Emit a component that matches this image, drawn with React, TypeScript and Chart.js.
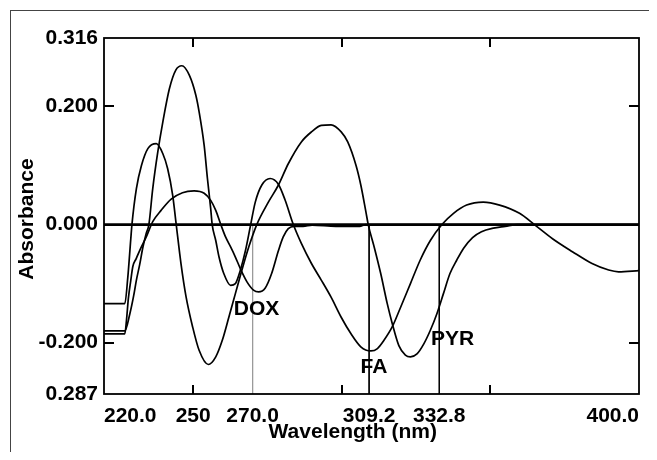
import React, { useEffect, useRef } from 'react';
import { Chart, registerables } from 'chart.js';

Chart.register(...registerables);

// ---- data ----
const faWavelength = [220, 227, 228.7, 230, 230.9, 232, 233.1, 234.2, 235.1, 236.4, 238.1, 239.8, 242, 244.2, 246.2, 248.7, 250.9, 252, 253.7, 254.8, 255.9, 256.4, 257.6, 258.7, 260.3, 262.6, 264.2, 265.9, 267.6, 269.2, 270.9, 273.1, 275.9, 278.7, 280.9, 283.7, 286.4, 289.8, 293.1, 296.4, 299.8, 303.1, 306.4, 309.8, 312, 314.2, 317, 319.8, 323.1, 326.4, 329.8, 333.7, 337.6, 342, 347.6, 353.1, 359.8, 364.8, 370.9, 377.6, 384.2, 389.8, 393.1, 400];
const faAbsorbance = [-0.18, -0.18, -0.151, -0.12, -0.094, -0.068, -0.038, -0.015, 0, 0.061, 0.123, 0.174, 0.23, 0.262, 0.269, 0.253, 0.219, 0.191, 0.134, 0.078, 0.027, 0, -0.027, -0.055, -0.083, -0.103, -0.1, -0.077, -0.044, -0.004, 0.038, 0.067, 0.078, 0.068, 0.042, 0, -0.032, -0.066, -0.094, -0.123, -0.157, -0.185, -0.207, -0.214, -0.21, -0.196, -0.173, -0.14, -0.1, -0.06, -0.027, 0, 0.019, 0.033, 0.038, 0.033, 0.019, 0, -0.024, -0.046, -0.066, -0.077, -0.08, -0.078];

const doxWavelength = [220, 227, 227.6, 228.2, 229, 229.7, 230.8, 232, 234.3, 236.4, 239.2, 242.6, 246.4, 250.3, 253.7, 255.9, 257.6, 259.3, 260.9, 262.6, 264.2, 265.9, 268.1, 270.3, 272, 274.2, 276.4, 278.7, 280.3, 282, 284, 287, 290, 298, 306, 308, 400];
const doxAbsorbance = [-0.185, -0.185, -0.16, -0.125, -0.095, -0.071, -0.058, -0.044, -0.02, 0.005, 0.024, 0.043, 0.054, 0.057, 0.053, 0.041, 0.024, 0, -0.021, -0.038, -0.055, -0.075, -0.097, -0.111, -0.114, -0.108, -0.083, -0.044, -0.021, -0.007, -0.003, -0.003, -0.001, -0.003, -0.003, 0, 0];

const pyrWavelength = [220, 227, 228, 229, 229.4, 230.9, 232.6, 234.8, 237.6, 239.8, 241.4, 243.1, 244.3, 245.9, 247.6, 249.8, 252, 255.1, 257.6, 259.8, 262, 264.2, 266.4, 268.7, 271.4, 275.3, 278.7, 282, 286.4, 289.8, 293.1, 296.4, 299.8, 302, 304.8, 306.4, 308.1, 308.9, 310.9, 313.1, 315.3, 317, 319.2, 321.4, 323.1, 325.3, 327.6, 329.8, 332, 334.2, 336.4, 338.7, 341, 344, 347, 351, 355, 359, 400];
const pyrAbsorbance = [-0.134, -0.134, -0.09, -0.025, 0, 0.061, 0.1, 0.129, 0.137, 0.12, 0.095, 0.05, 0, -0.066, -0.122, -0.173, -0.213, -0.237, -0.224, -0.196, -0.157, -0.117, -0.077, -0.038, 0, 0.038, 0.067, 0.103, 0.14, 0.157, 0.168, 0.169, 0.157, 0.14, 0.1, 0.067, 0.022, 0, -0.038, -0.083, -0.134, -0.168, -0.205, -0.221, -0.224, -0.219, -0.202, -0.179, -0.151, -0.117, -0.083, -0.06, -0.04, -0.022, -0.012, -0.006, -0.003, 0, 0];

const xRange = [220, 400];
const yRange = [-0.287, 0.316];
const xTickValues = [220, 250, 270, 309.2, 332.8, 400];
const xTickLabels = ['220.0', '250', '270.0', '309.2', '332.8', '400.0'];
const yTickValues = [-0.287, -0.2, 0, 0.2, 0.316];
const yTickLabels = ['0.287', '-0.200', '0.000', '0.200', '0.316'];
const xMinorTicks = [250, 300, 350];
const yMinorTicks = [-0.2, 0.2];
const markerWavelengths = [270, 309.2, 332.8];
const curveLabels = ['DOX', 'FA', 'PYR'];
const curveLabelWavelength = [271.3, 310.8, 337.3];
const curveLabelAbsorbance = [-0.144, -0.242, -0.194];
const xTitle = 'Wavelength (nm)';
const yTitle = 'Absorbance';

const FONT = '"Liberation Sans", Arial, sans-serif';

const toPoints = (xs: number[], ys: number[]) => xs.map((x, i) => ({ x, y: ys[i] }));

const decorPlugin = {
  id: 'decor',
  afterDatasetsDraw(chart: any) {
    const { ctx, chartArea: a, scales } = chart;
    const xs = scales.x;
    const ys = scales.y;
    ctx.save();
    // curve labels
    ctx.fillStyle = '#000';
    ctx.font = `bold 21px ${FONT}`;
    ctx.textAlign = 'center';
    ctx.textBaseline = 'middle';
    curveLabels.forEach((t, i) => {
      ctx.fillText(t, xs.getPixelForValue(curveLabelWavelength[i]), ys.getPixelForValue(curveLabelAbsorbance[i]));
    });
    // plot frame
    ctx.strokeStyle = '#000';
    ctx.lineWidth = 1.8;
    ctx.strokeRect(a.left, a.top, a.right - a.left, a.bottom - a.top);
    // inward ticks
    ctx.lineWidth = 2;
    ctx.beginPath();
    xMinorTicks.forEach((v) => {
      const px = Math.round(xs.getPixelForValue(v));
      ctx.moveTo(px, a.bottom);
      ctx.lineTo(px, a.bottom - 9);
      ctx.moveTo(px, a.top);
      ctx.lineTo(px, a.top + 9);
    });
    yMinorTicks.forEach((v) => {
      const py = Math.round(ys.getPixelForValue(v));
      ctx.moveTo(a.left, py);
      ctx.lineTo(a.left + 10, py);
      ctx.moveTo(a.right, py);
      ctx.lineTo(a.right - 10, py);
    });
    ctx.stroke();
    // outer frame
    ctx.strokeStyle = '#444';
    ctx.lineWidth = 1;
    ctx.strokeRect(2.5, 2.5, 643, chart.height + 20);
    // axis titles
    ctx.fillStyle = '#000';
    ctx.font = `bold 21px ${FONT}`;
    ctx.textAlign = 'center';
    ctx.textBaseline = 'alphabetic';
    ctx.fillText(xTitle, a.left + (a.right - a.left) * 0.465, a.bottom + 44);
    ctx.translate(25, (a.top + a.bottom) / 2 + 3);
    ctx.rotate(-Math.PI / 2);
    ctx.fillText(yTitle, 0, 0);
    ctx.restore();
  },
};

export default function App() {
  const ref = useRef<HTMLCanvasElement | null>(null);
  useEffect(() => {
    if (!ref.current) return;
    const curveStyle = {
      borderColor: '#000',
      borderWidth: 1.7,
      pointRadius: 0,
      cubicInterpolationMode: 'monotone' as const,
      fill: false,
    };
    const chart = new Chart(ref.current, {
      type: 'line',
      data: {
        datasets: [
          { label: 'DOX', data: toPoints(doxWavelength, doxAbsorbance), ...curveStyle },
          { label: 'FA', data: toPoints(faWavelength, faAbsorbance), ...curveStyle },
          { label: 'PYR', data: toPoints(pyrWavelength, pyrAbsorbance), ...curveStyle },
          {
            label: 'zero',
            data: [{ x: xRange[0], y: 0 }, { x: xRange[1], y: 0 }],
            borderColor: '#000', borderWidth: 2.8, pointRadius: 0, tension: 0,
          },
          ...markerWavelengths.map((w, i) => ({
            label: 'marker' + i,
            data: [{ x: w, y: 0 }, { x: w, y: yRange[0] }],
            borderColor: i === 0 ? '#9a9a9a' : '#000',
            borderWidth: 1,
            pointRadius: 0,
            tension: 0,
          })),
        ],
      },
      options: {
        animation: false,
        responsive: false,
        layout: { padding: { top: 30, right: 5, left: 0, bottom: 0 } },
        plugins: { legend: { display: false }, tooltip: { enabled: false } },
        scales: {
          x: {
            type: 'linear',
            min: xRange[0],
            max: xRange[1],
            grid: { display: false, drawTicks: false },
            border: { display: false },
            afterBuildTicks: (s: any) => { s.ticks = xTickValues.map((v) => ({ value: v })); },
            afterFit: (s: any) => { s.height = 58; },
            ticks: {
              autoSkip: false,
              maxRotation: 0,
              minRotation: 0,
              align: 'inner',
              padding: 10,
              color: '#000',
              font: { family: FONT, size: 21, weight: 'bold' },
              callback: (_v: any, i: number) => xTickLabels[i],
            },
          },
          y: {
            type: 'linear',
            min: yRange[0],
            max: yRange[1],
            grid: { display: false, drawTicks: false },
            border: { display: false },
            afterBuildTicks: (s: any) => { s.ticks = yTickValues.map((v) => ({ value: v })); },
            afterFit: (s: any) => { s.width = 96; },
            ticks: {
              autoSkip: false,
              padding: 6,
              color: '#000',
              font: { family: FONT, size: 21, weight: 'bold' },
              callback: (_v: any, i: number) => yTickLabels[i],
            },
          },
        },
      },
      plugins: [decorPlugin],
    } as any);
    return () => chart.destroy();
  }, []);
  return (
    <div style={{ width: 641, height: 444 }}>
      <canvas ref={ref} width={641} height={444} style={{ display: 'block', width: 641, height: 444 }} />
    </div>
  );
}
